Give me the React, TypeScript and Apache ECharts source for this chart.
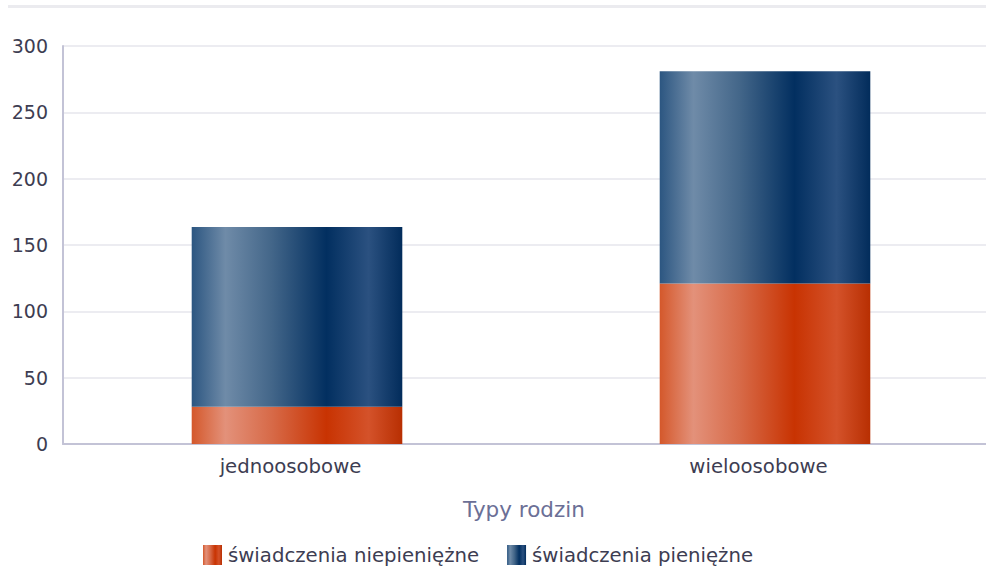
import React, { useEffect, useRef } from "react";
import * as echarts from "echarts";

const categories = ["jednoosobowe", "wieloosobowe"];
const nonCash = [28, 121];
const cash = [135.5, 160];
const seriesNames = ["świadczenia niepieniężne", "świadczenia pieniężne"];
const yTicks = { min: 0, max: 300, interval: 50 };
const axisName = "Typy rodzin";

const FONT = "'DejaVu Sans', sans-serif";

function grad(stops: [number, string][]) {
  return new echarts.graphic.LinearGradient(
    0, 0, 1, 0,
    stops.map(([offset, color]) => ({ offset, color }))
  );
}

export default function App() {
  const ref = useRef<HTMLDivElement>(null);
  useEffect(() => {
    if (!ref.current) return;
    const chart = echarts.init(ref.current, null, { renderer: "svg" });
    const orange = grad([
      [0, "#d4582b"],
      [0.16, "#e3917a"],
      [0.38, "#d76a48"],
      [0.64, "#c83302"],
      [0.84, "#d4522a"],
      [1, "#b82f02"],
    ]);
    const blue = grad([
      [0, "#2c5681"],
      [0.16, "#6f8ba8"],
      [0.38, "#436689"],
      [0.64, "#022f60"],
      [0.84, "#2b5180"],
      [1, "#022c5b"],
    ]);
    chart.setOption({
      animation: false,
      textStyle: { fontFamily: FONT },
      graphic: [
        {
          type: "rect",
          shape: { x: 8, y: 5, width: 978, height: 3 },
          style: { fill: "#ebebef" },
          silent: true,
        },
      ],
      grid: { left: 63, right: 1, top: 46, bottom: 125 },
      legend: {
        top: 540,
        left: 198,
        itemWidth: 19,
        itemHeight: 20,
        itemGap: 28,
        icon: "rect",
        textStyle: { fontFamily: FONT, fontSize: 19.7, color: "#3d3d52", padding: [0, 0, 0, 1] },
        data: seriesNames,
      },
      xAxis: {
        type: "category",
        data: categories,
        name: axisName,
        nameLocation: "middle",
        nameGap: 54,
        nameTextStyle: { fontFamily: FONT, fontSize: 21.5, color: "#6b6f96", padding: [0, 14, 0, 0] },
        axisLine: { lineStyle: { color: "#c3c3d6", width: 2 } },
        axisTick: { show: false },
        axisLabel: { fontFamily: FONT, fontSize: 19.7, color: "#3d3d52", margin: 12, padding: [0, 13, 0, 0] },
      },
      yAxis: {
        type: "value",
        min: yTicks.min,
        max: yTicks.max,
        interval: yTicks.interval,
        axisLine: { show: true, lineStyle: { color: "#c3c3d6", width: 2 } },
        axisTick: { show: false },
        splitLine: { lineStyle: { color: "#ececf1", width: 2 } },
        axisLabel: { fontFamily: FONT, fontSize: 19, color: "#3d3d52", margin: 15 },
      },
      series: [
        {
          name: seriesNames[0],
          type: "bar",
          stack: "total",
          barWidth: "45%",
          data: nonCash,
          itemStyle: { color: orange },
        },
        {
          name: seriesNames[1],
          type: "bar",
          stack: "total",
          barWidth: "45%",
          data: cash,
          itemStyle: { color: blue },
        },
      ],
    });
    return () => chart.dispose();
  }, []);
  return (
    <div
      style={{ position: "absolute", left: 0, top: 0, width: 986, height: 569, overflow: "hidden", background: "#fff" }}
    >
      <div ref={ref} style={{ width: 1000, height: 569 }} />
    </div>
  );
}
